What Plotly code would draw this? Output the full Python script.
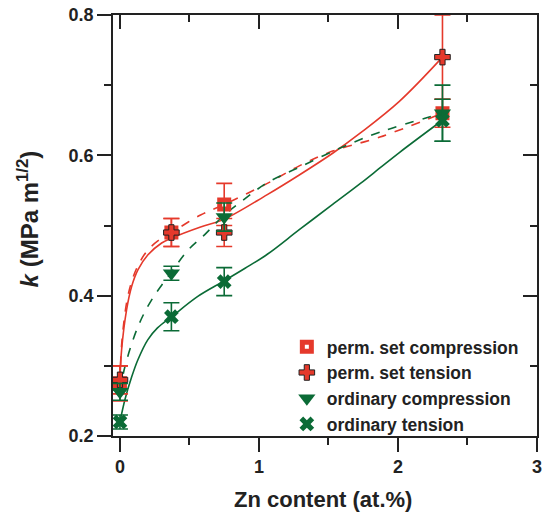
import plotly.graph_objects as go

RED = '#e5392b'
GREEN = '#0b6b36'
DARK = '#222222'
FONT = 'Liberation Sans, Arial'

# measured points
zn = [0, 0.37, 0.75, 2.32]
k_perm_comp = [0.275, 0.49, 0.53, 0.66]
err_perm_comp = [0.025, 0.02, 0.03, 0.02]
k_perm_tens = [0.28, 0.49, 0.49, 0.74]
err_perm_tens = [0.02, 0.02, 0.02, 0.06]
k_ord_comp = [0.263, 0.432, 0.512, 0.66]
err_ord_comp = [0.012, 0.01, 0.02, 0.04]
k_ord_tens = [0.22, 0.37, 0.42, 0.65]
err_ord_tens = [0.01, 0.02, 0.02, 0.03]

# fit curves
fit_pt_x = [0, 0.012, 0.048, 0.084, 0.13, 0.2, 0.3, 0.37, 0.58, 0.74, 1.06, 1.29, 1.53, 1.73, 2.01, 2.32]
fit_pt_y = [0.28, 0.323, 0.38, 0.413, 0.437, 0.458, 0.475, 0.482, 0.498, 0.508, 0.544, 0.572, 0.603, 0.632, 0.677, 0.74]
fit_pc_x = [0, 0.012, 0.048, 0.084, 0.13, 0.2, 0.3, 0.37, 0.58, 0.74, 1.06, 1.29, 1.53, 1.87, 2.32]
fit_pc_y = [0.275, 0.33, 0.39, 0.42, 0.443, 0.465, 0.482, 0.49, 0.515, 0.529, 0.56, 0.585, 0.606, 0.626, 0.66]
fit_oc_x = [0, 0.036, 0.13, 0.228, 0.372, 0.49, 0.61, 0.74, 0.885, 1.06, 1.29, 1.58, 1.87, 2.32]
fit_oc_y = [0.263, 0.299, 0.356, 0.394, 0.434, 0.465, 0.487, 0.513, 0.536, 0.561, 0.583, 0.61, 0.633, 0.66]
fit_ot_x = [0, 0.036, 0.084, 0.13, 0.2, 0.27, 0.372, 0.56, 0.74, 0.9, 1.06, 1.29, 1.53, 1.73, 1.87, 2.01, 2.32]
fit_ot_y = [0.22, 0.252, 0.284, 0.309, 0.337, 0.354, 0.37, 0.399, 0.42, 0.439, 0.459, 0.494, 0.53, 0.56, 0.582, 0.604, 0.65]

fig = go.Figure()

# fitted curves
fig.add_trace(go.Scatter(x=fit_pc_x, y=fit_pc_y, mode='lines', line=dict(color=RED, width=1.6, dash='dash', shape='spline'), showlegend=False))
fig.add_trace(go.Scatter(x=fit_pt_x, y=fit_pt_y, mode='lines', line=dict(color=RED, width=1.6, shape='spline'), showlegend=False))
fig.add_trace(go.Scatter(x=fit_oc_x, y=fit_oc_y, mode='lines', line=dict(color=GREEN, width=1.6, dash='dash', shape='spline'), showlegend=False))
fig.add_trace(go.Scatter(x=fit_ot_x, y=fit_ot_y, mode='lines', line=dict(color=GREEN, width=1.6, shape='spline'), showlegend=False))


def eb(arr, color):
    return dict(type='data', array=arr, visible=True, color=color, thickness=1.6, width=8)


fig.add_trace(go.Scatter(x=zn, y=k_perm_comp, mode='markers', name='<b>perm. set compression</b>',
                         error_y=eb(err_perm_comp, RED),
                         marker=dict(symbol='square-open', size=9, color=RED, line=dict(color=RED, width=5))))
fig.add_trace(go.Scatter(x=zn, y=k_perm_tens, mode='markers', name='<b>perm. set tension</b>',
                         error_y=eb(err_perm_tens, RED),
                         marker=dict(symbol='cross', size=13, color=RED, line=dict(color=DARK, width=1))))
fig.add_trace(go.Scatter(x=zn, y=k_ord_comp, mode='markers', name='<b>ordinary compression</b>',
                         error_y=eb(err_ord_comp, GREEN),
                         marker=dict(symbol='triangle-down', size=15, color=GREEN, line=dict(width=0))))
fig.add_trace(go.Scatter(x=zn, y=k_ord_tens, mode='markers', name='<b>ordinary tension</b>',
                         error_y=eb(err_ord_tens, GREEN),
                         marker=dict(symbol='x', size=13, color=GREEN, line=dict(width=0))))

# dummy trace so the mirror axes get drawn
fig.add_trace(go.Scatter(x=[None], y=[None], xaxis='x2', yaxis='y2', showlegend=False, hoverinfo='skip'))

axfont = dict(family=FONT, size=18, color=DARK)
common = dict(showgrid=False, zeroline=False, showline=True, linecolor=DARK, linewidth=1.5,
              tickcolor=DARK, tickwidth=1.5, automargin=False, ticklabeloverflow='allow')
xr = [-0.05, 3]
yr = [0.2, 0.8]

# the page puts the plot 8px in from the corner, margins account for that
fig.update_layout(
    width=550, height=514,
    margin=dict(l=105, r=21, t=7, b=86),
    plot_bgcolor='white', paper_bgcolor='white',
    font=dict(family=FONT, color=DARK),
    xaxis=dict(range=xr, tickvals=[0, 1, 2, 3], ticktext=['<b>0</b>', '<b>1</b>', '<b>2</b>', '<b>3</b>'],
               ticks='outside', ticklen=14, tickfont=axfont,
               minor=dict(dtick=0.5, tick0=0, ticks='outside', ticklen=7, tickcolor=DARK, tickwidth=1.5),
               **common),
    yaxis=dict(range=yr, tickvals=[0.2, 0.4, 0.6, 0.8], ticktext=['<b>0.2</b>', '<b>0.4</b>', '<b>0.6</b>', '<b>0.8</b>'],
               ticks='outside', ticklen=14, tickfont=axfont,
               minor=dict(dtick=0.1, tick0=0.2, ticks='outside', ticklen=7, tickcolor=DARK, tickwidth=1.5),
               **common),
    xaxis2=dict(overlaying='x', side='top', range=xr, tickvals=[0, 1, 2, 3], showticklabels=False,
                ticks='inside', ticklen=14,
                minor=dict(dtick=0.5, tick0=0, ticks='inside', ticklen=7, tickcolor=DARK, tickwidth=1.5),
                **common),
    yaxis2=dict(overlaying='y', side='right', range=yr, tickvals=[0.2, 0.4, 0.6, 0.8], showticklabels=False,
                ticks='inside', ticklen=14,
                minor=dict(dtick=0.1, tick0=0.2, ticks='inside', ticklen=7, tickcolor=DARK, tickwidth=1.5),
                **common),
    legend=dict(x=0.41, y=0.2545, xanchor='left', yanchor='top', bgcolor='rgba(0,0,0,0)',
                font=dict(size=17.5, color=DARK, family=FONT), tracegroupgap=0, itemwidth=30),
    annotations=[
        dict(text='<b>Zn content (at.%)</b>', xref='paper', yref='paper', x=0.495, y=-0.152,
             xanchor='center', yanchor='middle', showarrow=False, font=dict(size=22, color=DARK)),
        dict(text='<b><i>k</i> (MPa m<sup>1/2</sup>)</b>', xref='paper', yref='paper', x=-0.2, y=0.515,
             xanchor='center', yanchor='middle', textangle=-90, showarrow=False, font=dict(size=24, color=DARK)),
    ],
)

fig.write_html('out.html')
